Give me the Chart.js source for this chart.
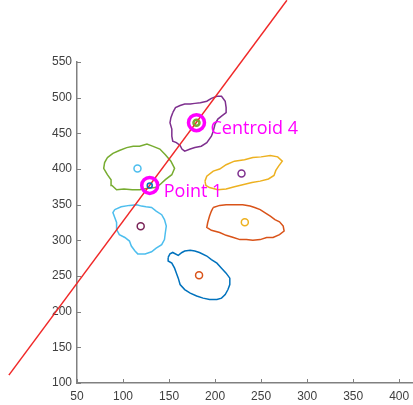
<!DOCTYPE html>
<html lang="en">
<head>
  <meta charset="UTF-8" />
  <title>Centroid 4 / Point 1</title>
  <script src="https://cdn.jsdelivr.net/npm/chart.js"></script>
  <style>
    body { margin: 0; background: #fff; }
  </style>
</head>
<body>
  <canvas id="chart" width="413" height="405"></canvas>

  <script>
    // tick labels
    const xTicks = [50, 100, 150, 200, 250, 300, 350, 400];
    const yTicks = [100, 150, 200, 250, 300, 350, 400, 450, 500, 550];

    // blob outlines, [x, y]
    const blueBlob = [[149,276],[151,281],[154,283],[160,279],[164,283],[167,285],[173,286],[178,285],[183,283],[191,278],[196,273],[202,268],[207,261],[212,254],[216,247],[216,238],[214,231],[211,224],[207,219],[202,217],[194,217],[187,219],[180,222],[173,226],[167,231],[162,238],[160,247],[158,254],[156,261],[153,268],[149,271]];
    const orangeBlob = [[198,346],[205,349],[212,350],[220,350],[230,350],[238,348],[243,346],[249,343],[254,339],[260,334],[265,329],[270,326],[274,320],[275,313],[270,308],[263,304],[256,304],[249,301],[241,300],[234,301],[227,301],[220,304],[212,307],[205,311],[196,314],[191,318],[192,325],[194,334],[196,341]];
    const yellowBlob = [[189,383],[191,390],[198,397],[205,400],[212,406],[221,411],[232,413],[241,416],[250,417],[260,419],[268,417],[273,411],[269,404],[266,398],[264,391],[258,386],[249,383],[240,381],[230,378],[221,375],[212,372],[203,371],[194,374],[190,377]];
    const purpleBlob = [[154,479],[157,486],[162,489],[167,491],[173,491],[178,492],[184,493],[191,495],[196,499],[202,502],[207,502],[211,495],[212,486],[212,479],[207,474],[203,470],[200,463],[198,453],[196,446],[191,437],[185,432],[178,430],[173,428],[167,425],[164,428],[162,433],[158,437],[154,439],[153,446],[153,456],[151,465],[152,472]];
    const greenBlob = [[83,416],[89,422],[96,426],[104,430],[111,432],[118,432],[126,435],[132,432],[140,428],[146,420],[152,411],[156,401],[153,392],[146,385],[140,378],[135,374],[127,373],[118,371],[110,371],[101,372],[93,371],[88,377],[87,385],[83,392],[79,401],[80,409]];
    const lightBlueBlob = [[91,343],[98,347],[107,349],[115,350],[120,348],[125,347],[131,346],[136,341],[142,336],[145,329],[147,320],[146,311],[145,301],[142,294],[136,289],[131,284],[124,281],[116,281],[113,285],[109,292],[107,299],[102,304],[96,308],[93,315],[93,325],[91,332],[89,339]];
    const blobs = [blueBlob, orangeBlob, yellowBlob, purpleBlob, greenBlob, lightBlueBlob];
    const blobColors = ["#0072BD", "#D95319", "#EDB120", "#7E2F8E", "#77AC30", "#4DBEEE"];

    // centroids (colour order shifted by one)
    const centroidX = [182.6, 232.3, 228.7, 179.8, 115.7, 119.2];
    const centroidY = [251, 325.4, 393.8, 465, 400.8, 319.8];
    const centroidColors = ["#D95319", "#EDB120", "#7E2F8E", "#77AC30", "#4DBEEE", "#7a2458"];

    // highlighted points
    const markLabels = ["Point 1", "Centroid 4"];
    const markX = [129, 179.8];
    const markY = [377, 465];
    const markInner = ["#0072BD", "#77AC30"];

    // fitted line
    const lineX = [-24, 278];
    const lineY = [111, 636.5];

    Chart.defaults.font.family = '"Liberation Sans", Arial, sans-serif';

    const pts = (xs, ys) => xs.map((v, i) => ({ x: v, y: ys[i] }));

    const datasets = blobs.map((b, i) => ({
      data: b.concat([b[0]]).map(p => ({ x: p[0], y: p[1] })),
      showLine: true,
      borderColor: blobColors[i],
      borderWidth: 1.5,
      pointRadius: 0,
      tension: 0,
      order: 6,
    }));

    datasets.push({
      data: pts(centroidX, centroidY),
      pointRadius: 3.5,
      pointBorderWidth: 1.5,
      pointBorderColor: centroidColors,
      pointBackgroundColor: "rgba(0,0,0,0)",
      order: 5,
    });

    datasets.push({
      data: pts(lineX, lineY),
      showLine: true,
      borderColor: "#f02828",
      borderWidth: 1.5,
      pointRadius: 0,
      clip: false,
      order: 4,
    });

    datasets.push({
      data: pts(markX, markY),
      pointRadius: 8,
      pointBorderWidth: 3.5,
      pointBorderColor: "#ff00ff",
      pointBackgroundColor: "rgba(0,0,0,0)",
      order: 3,
    });

    datasets.push({
      data: pts(markX, markY),
      pointRadius: 2.5,
      pointBorderWidth: 1.5,
      pointBorderColor: markInner,
      pointBackgroundColor: "rgba(0,0,0,0)",
      order: 2,
    });

    // inward tick marks and magenta labels
    const extras = {
      id: "extras",
      afterDatasetsDraw(chart) {
        const { ctx, scales: { x, y } } = chart;
        ctx.save();
        ctx.strokeStyle = "#808080";
        ctx.lineWidth = 1;
        xTicks.forEach(v => {
          const px = Math.round(x.getPixelForValue(v)) + 0.5;
          ctx.beginPath();
          ctx.moveTo(px, y.bottom);
          ctx.lineTo(px, y.bottom - 4);
          ctx.stroke();
        });
        yTicks.forEach(v => {
          const py = Math.round(y.getPixelForValue(v)) + 0.5;
          ctx.beginPath();
          ctx.moveTo(x.left, py);
          ctx.lineTo(x.left + 4, py);
          ctx.stroke();
        });
        ctx.fillStyle = "#ff00ff";
        ctx.font = '18px "Open Sans"';
        ctx.textBaseline = "middle";
        markLabels.forEach((t, i) => {
          ctx.fillText(t, x.getPixelForValue(markX[i]) + 14, y.getPixelForValue(markY[i]) + 6);
        });
        ctx.restore();
      },
    };

    const axisCommon = {
      type: "linear",
      grid: { display: true, drawOnChartArea: false, drawTicks: false },
      border: { display: true, color: "#808080", width: 1.5 },
      ticks: { color: "#404040", font: { size: 12 } },
    };

    new Chart(document.getElementById("chart"), {
      type: "scatter",
      data: { datasets: datasets },
      options: {
        responsive: false,
        animation: false,
        layout: { autoPadding: false, padding: { top: 62, right: 0, left: 0, bottom: 0 } },
        plugins: { legend: { display: false }, tooltip: { enabled: false } },
        scales: {
          x: {
            ...axisCommon,
            min: 50,
            max: 415,
            ticks: { ...axisCommon.ticks, padding: 6 },
            afterBuildTicks: s => { s.ticks = xTicks.map(v => ({ value: v })); },
            afterFit: s => { s.height = 22; s.paddingLeft = 0; s.paddingRight = 0; },
          },
          y: {
            ...axisCommon,
            min: 100,
            max: 550,
            ticks: { ...axisCommon.ticks, padding: 5 },
            afterBuildTicks: s => { s.ticks = yTicks.map(v => ({ value: v })); },
            afterFit: s => { s.width = 77; s.paddingTop = 0; s.paddingBottom = 0; },
          },
        },
      },
      plugins: [extras],
    });
  </script>
</body>
</html>
